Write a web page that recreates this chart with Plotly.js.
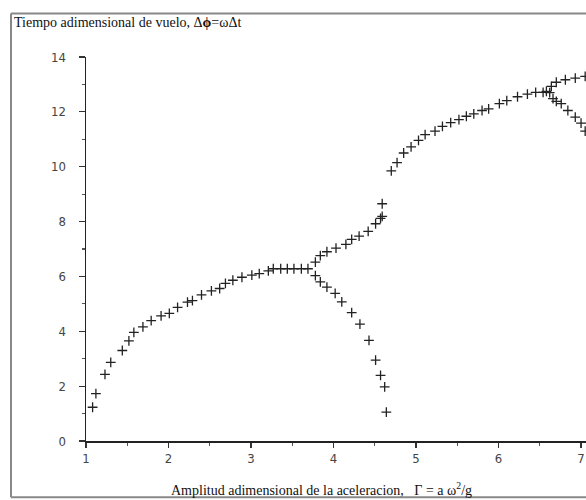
<!DOCTYPE html>
<html>
<head>
<meta charset="utf-8">
<script src="https://cdn.plot.ly/plotly-3.0.1.min.js"></script>
<style>html,body{margin:0;padding:0;background:#fff;}#chart{width:586px;height:500px;}</style>
</head>
<body>
<div id="chart"></div>
<script>
// Branch before the first bifurcation
const gammaMain = [1.08,1.12,1.23,1.30,1.44,1.52,1.58,1.69,1.79,1.91,2.01,2.11,2.23,2.29,2.40,2.52,2.62,2.69,2.78,2.89,3.01,3.10,3.21,3.27,3.36,3.44,3.52,3.61,3.69];
const phiMain   = [1.23,1.73,2.43,2.87,3.30,3.65,3.96,4.16,4.39,4.56,4.65,4.87,5.06,5.12,5.33,5.47,5.56,5.75,5.86,5.97,6.05,6.10,6.20,6.28,6.28,6.28,6.28,6.28,6.28];
// Upper branch after first bifurcation
const gammaUp1 = [3.78,3.84,3.92,4.03,4.15,4.22,4.31,4.42,4.51,4.57,4.59,4.59];
const phiUp1   = [6.52,6.76,6.90,7.03,7.17,7.35,7.47,7.64,7.92,8.12,8.19,8.65];
// Lower branch after first bifurcation
const gammaLow1 = [3.78,3.84,3.92,4.02,4.10,4.22,4.32,4.43,4.51,4.57,4.62,4.64];
const phiLow1   = [6.03,5.80,5.61,5.38,5.07,4.68,4.26,3.67,2.95,2.39,1.97,1.05];
// Second branch after the jump
const gammaMain2 = [4.70,4.77,4.85,4.94,5.03,5.11,5.23,5.32,5.42,5.52,5.61,5.70,5.80,5.88,6.01,6.10,6.23,6.35,6.45,6.54,6.58,6.62];
const phiMain2   = [9.85,10.15,10.50,10.72,10.96,11.17,11.30,11.47,11.61,11.72,11.84,11.93,12.05,12.11,12.30,12.41,12.55,12.65,12.71,12.71,12.75,12.70];
// Second bifurcation
const gammaUp2 = [6.64,6.70,6.81,6.93,7.05];
const phiUp2   = [12.93,13.08,13.17,13.23,13.29];
const gammaLow2 = [6.66,6.70,6.76,6.84,6.93,7.00,7.05];
const phiLow2   = [12.48,12.38,12.30,12.05,11.81,11.59,11.30];

const xTicks = [1,2,3,4,5,6,7];
const yTicks = [0,2,4,6,8,10,12,14];

const marker = {symbol:'cross-thin', size:7, color:'#222', line:{width:1.3, color:'#222'}};
const branches = [[gammaMain,phiMain],[gammaUp1,phiUp1],[gammaLow1,phiLow1],[gammaMain2,phiMain2],[gammaUp2,phiUp2],[gammaLow2,phiLow2]];
const data = branches.map(b => ({x:b[0], y:b[1], type:'scatter', mode:'markers', marker:marker, showlegend:false, hoverinfo:'x+y', cliponaxis:false}));

const tickFont = {family:'Liberation Sans Narrow, DejaVu Sans Condensed, Arial Narrow, sans-serif', size:13, color:'#444'};
const serif = 'Liberation Serif, Times New Roman, serif';

const layout = {
  width:586, height:500,
  paper_bgcolor:'#fff', plot_bgcolor:'#fff',
  margin:{l:86, r:0, t:56.5, b:58.5},
  title:{text:'Tiempo adimensional de vuelo, Δ<b>ϕ</b>=ωΔt', x:14/586, xanchor:'left', y:1-22/500, yanchor:'middle', font:{family:serif, size:14, color:'#111'}},
  xaxis:{range:[1,7.06], tickvals:xTicks, ticktext:xTicks.map(String), ticks:'outside', ticklen:5, tickwidth:1.2, tickcolor:'#333',
         minor:{dtick:0.5, tick0:1, ticks:'outside', ticklen:3, tickcolor:'#555'},
         showline:true, linecolor:'#222', linewidth:1.5, showgrid:false, zeroline:false, tickfont:tickFont},
  yaxis:{range:[0,14], tickvals:yTicks, ticktext:yTicks.map(String), ticks:'outside', ticklen:6, tickwidth:1.2, tickcolor:'#333',
         minor:{dtick:1, tick0:0, ticks:'outside', ticklen:3, tickcolor:'#555'}, ticklabelstandoff:10,
         showline:true, linecolor:'#222', linewidth:1.5, showgrid:false, zeroline:false, tickfont:tickFont},
  annotations:[{text:'Amplitud adimensional de la aceleracion,\u00a0\u00a0 Γ = a ω<sup>2</sup>/g', xref:'paper', yref:'paper',
    x:(321-86)/500, y:(441.5-490)/385, xanchor:'center', yanchor:'middle', showarrow:false, font:{family:serif, size:14, color:'#111'}}],
  shapes:[
    {type:'line', xref:'paper', yref:'paper', x0:(11-86)/500, x1:(11-86)/500, y0:(441.5-13)/385, y1:(441.5-498)/385, line:{color:'#888', width:2}},
    {type:'line', xref:'paper', yref:'paper', x0:(11-86)/500, x1:1.01, y0:(441.5-13)/385, y1:(441.5-13)/385, line:{color:'#888', width:2}},
    {type:'line', xref:'paper', yref:'paper', x0:(11-86)/500, x1:1.01, y0:(441.5-498)/385, y1:(441.5-498)/385, line:{color:'#888', width:2}}
  ]
};
Plotly.newPlot('chart', data, layout, {displayModeBar:false, staticPlot:true});
</script>
</body>
</html>
